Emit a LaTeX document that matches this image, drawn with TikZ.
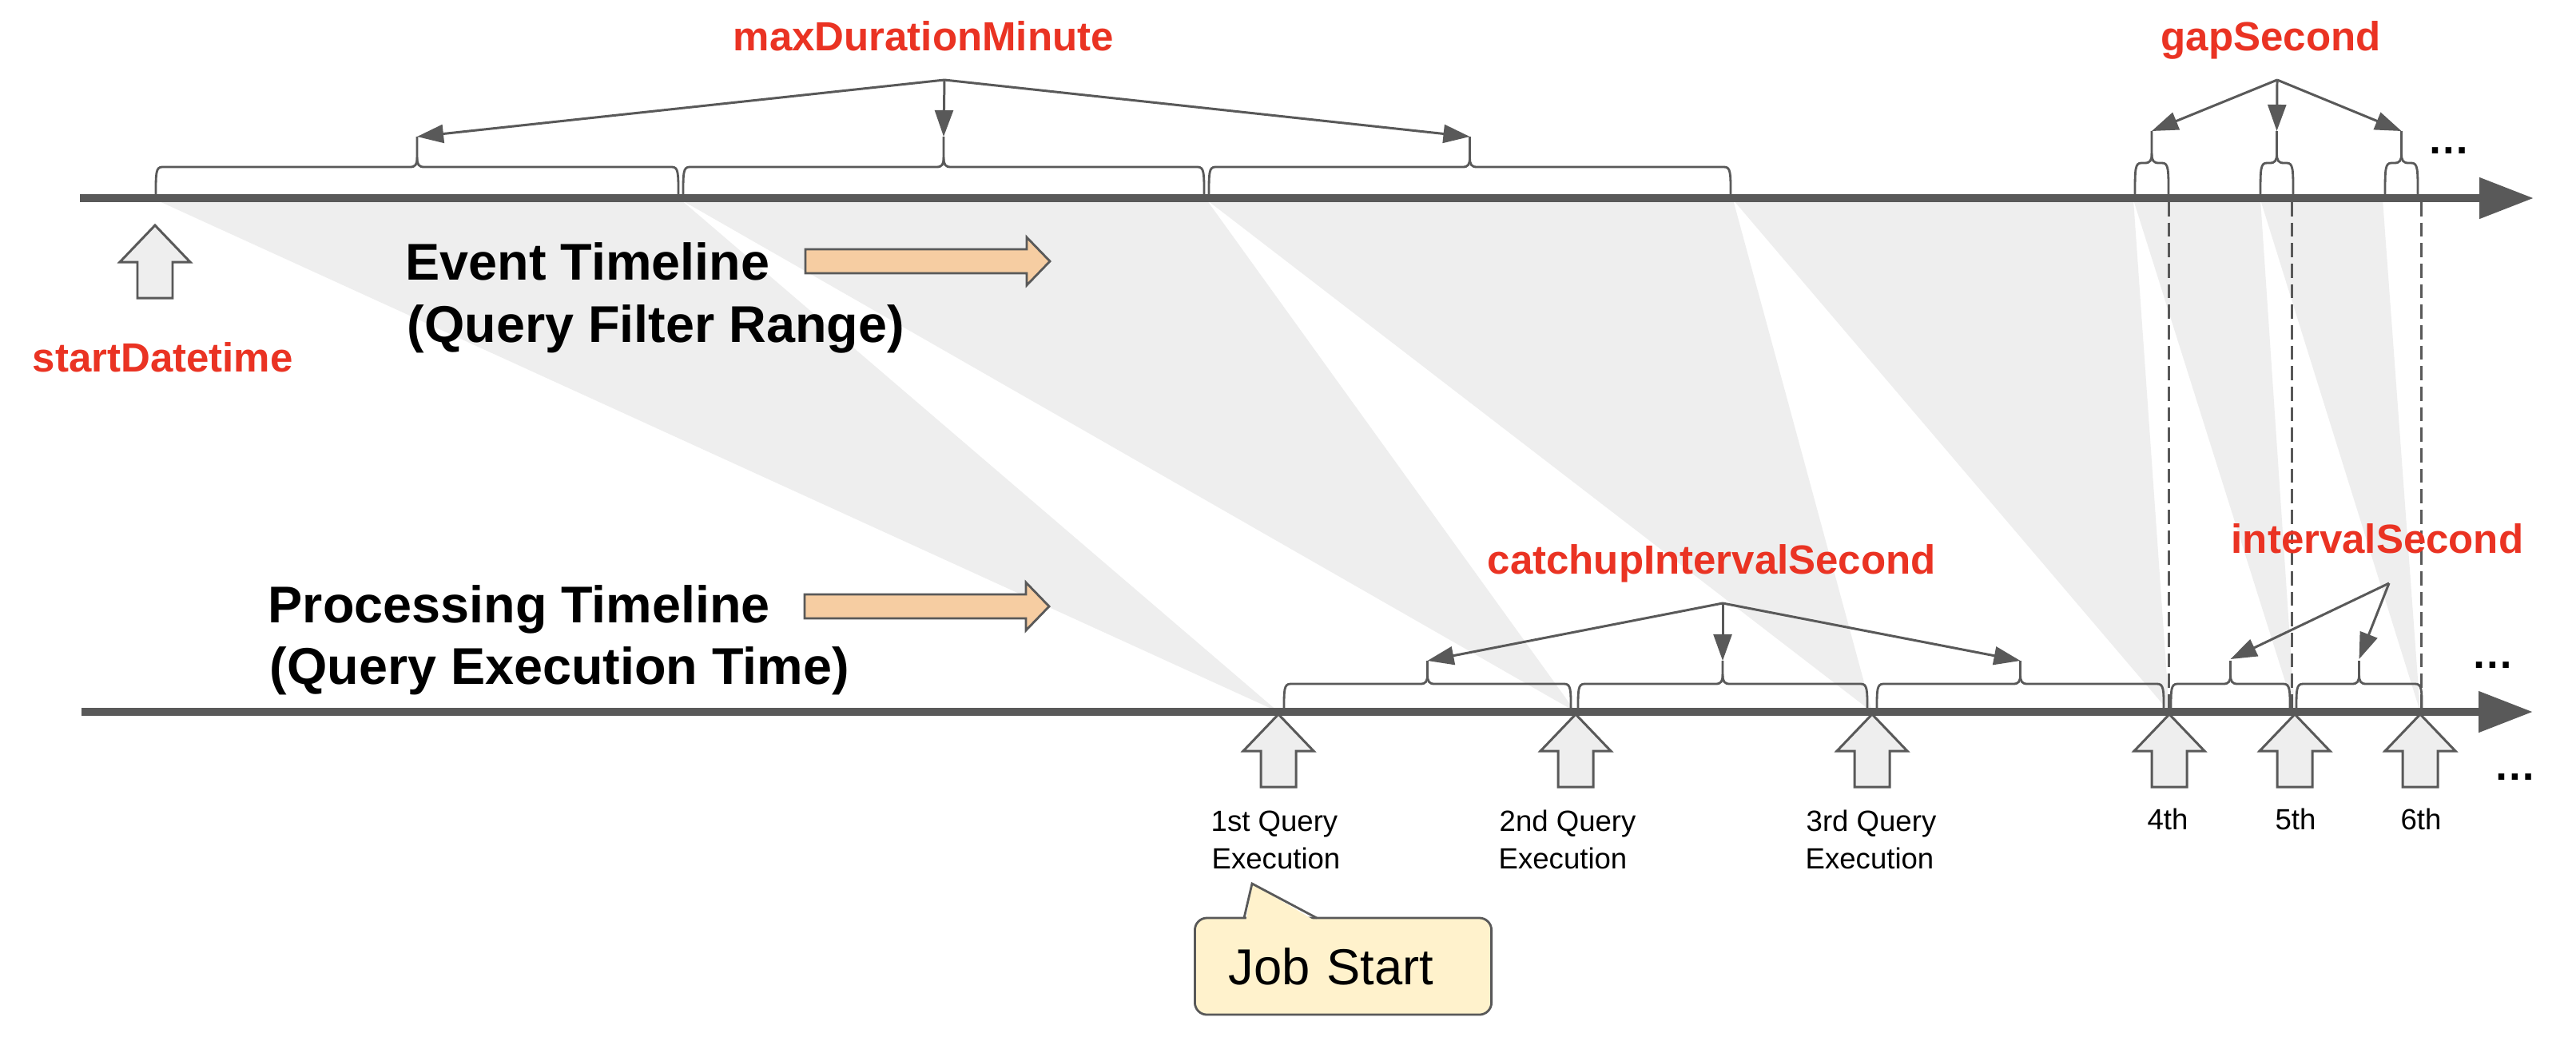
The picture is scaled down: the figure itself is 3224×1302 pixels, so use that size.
\documentclass[tikz,border=0pt]{standalone}
\usepackage{fontspec}
\setmainfont{Liberation Sans}
\usetikzlibrary{arrows.meta}
\definecolor{lg}{HTML}{595959}
\definecolor{wedgegray}{HTML}{EEEEEE}
\definecolor{lbl}{HTML}{EA3323}
\definecolor{orng}{HTML}{F6CDA2}
\definecolor{calloutfill}{HTML}{FFF2CC}

\newcommand{\tlbrace}[5]{%
  \pgfmathsetmacro{\brmid}{(#1+#2)/2}%
  \draw[bracestyle] (#1,#3) .. controls (#1,{#4+8}) and (#1,#4) .. ({#1+8},#4) -- ({\brmid-9},#4) .. controls ({\brmid-2},#4) and (\brmid,{#4-3}) .. (\brmid,{#4-12}) -- (\brmid,#5);
  \draw[bracestyle] (\brmid,{#4-12}) .. controls (\brmid,{#4-3}) and ({\brmid+2},#4) .. ({\brmid+9},#4) -- ({#2-8},#4) .. controls (#2,#4) and (#2,{#4+8}) .. (#2,#3);
}

\begin{document}
\begin{tikzpicture}[x=0.01cm,y=-0.01cm,
  bar/.style={draw=lg, line width=2.85pt, -{Triangle[length=19.3pt,width=14pt]}},
  conn/.style={draw=lg, line width=0.85pt, -{Triangle[length=9.4pt,width=6.5pt]}},
  bracestyle/.style={draw=lg, line width=0.8pt},
  dashedline/.style={draw=lg, line width=0.85pt, dash pattern=on 5pt off 2.3pt},
  blockarrow/.style={draw=lg, fill=wedgegray, line width=0.85pt},
  orangestyle/.style={draw=lg, fill=orng, line width=0.8pt},
  txt/.style={inner sep=0pt, anchor=base west},
  redlbl/.style={txt, text=lbl, font=\bfseries\fontsize{14.5pt}{17pt}\selectfont},
  biglbl/.style={txt, font=\bfseries\fontsize{18.4pt}{22pt}\selectfont},
  qlbl/.style={txt, font=\fontsize{10.4pt}{13pt}\selectfont},
  ordlbl/.style={qlbl, anchor=base},
  dots/.style={inner sep=0pt, anchor=base, font=\bfseries\fontsize{15pt}{18pt}\selectfont},
  calloutbox/.style={draw=lg, fill=calloutfill, line width=0.8pt, rounded corners=4.3pt,
    minimum height=1.21cm, text width=2.87cm, inner xsep=0.42cm, inner ysep=0pt,
    align=left, anchor=west, font=\fontsize{18pt}{21pt}\selectfont},
  uparrow/.pic={\draw[blockarrow] (0,0) -- (44,46) -- (22,46) -- (22,91) -- (-22,91) -- (-22,46) -- (-44,46) -- cycle;},
  orangearrow/.pic={\draw[orangestyle] (0,-15) -- (277,-15) -- (277,-30) -- (306,0) -- (277,30) -- (277,15) -- (0,15) -- cycle;}
]
\useasboundingbox (0,0) rectangle (3224,1302);
\fill[white] (0,0) rectangle (3224,1302);

% projection wedges
\fill[wedgegray] (195,250) -- (852,250) -- (1600,891) -- cycle;
\fill[wedgegray] (852,250) -- (1510,250) -- (1972,891) -- cycle;
\fill[wedgegray] (1510,250) -- (2169,250) -- (2343,891) -- cycle;
\fill[wedgegray] (2169,250) -- (2670,250) -- (2715,891) -- cycle;
\fill[wedgegray] (2670,250) -- (2829,250) -- (2872,891) -- cycle;
\fill[wedgegray] (2829,250) -- (2982,250) -- (3029,891) -- cycle;

% dashed guides
\coordinate (d1t) at (2714,253); \coordinate (d1b) at (2714,886);
\coordinate (d2t) at (2868,253); \coordinate (d2b) at (2868,886);
\coordinate (d3t) at (3030,253); \coordinate (d3b) at (3030,886);
\draw[dashedline] (d1t) -- (d1b);
\draw[dashedline] (d2t) -- (d2b);
\draw[dashedline] (d3t) -- (d3b);

% timelines
\coordinate (evA) at (100,248); \coordinate (evB) at (3171,248);
\coordinate (prA) at (102,891); \coordinate (prB) at (3170,891);
\draw[bar] (evA) -- (evB);
\draw[bar] (prA) -- (prB);

% event braces
\tlbrace{195}{849}{243}{209}{171}
\tlbrace{855}{1507}{243}{209}{171}
\tlbrace{1513}{2166}{243}{209}{171}
\tlbrace{2672}{2714}{243}{204}{164}
\tlbrace{2829}{2870}{243}{204}{164}
\tlbrace{2985}{3026}{243}{204}{164}

% processing braces
\tlbrace{1607}{1966}{886}{856}{827}
\tlbrace{1975}{2337}{886}{856}{827}
\tlbrace{2349}{2708}{886}{856}{827}
\tlbrace{2717}{2866}{886}{856}{827}
\tlbrace{2874}{3031}{886}{856}{827}

% block arrows
\pic at (194,282) {uparrow};
\pic at (1600,894) {uparrow};
\pic at (1972,894) {uparrow};
\pic at (2343,894) {uparrow};
\pic at (2715,894) {uparrow};
\pic at (2872,894) {uparrow};
\pic at (3029,894) {uparrow};

% orange direction arrows
\pic at (1008,327) {orangearrow};
\pic at (1007,759) {orangearrow};

% connectors
\coordinate (mdApex) at (1182,100);
\coordinate (mdT1) at (522,171); \coordinate (mdT2) at (1181,171); \coordinate (mdT3) at (1839.5,171);
\draw[conn] (mdApex) -- (mdT1);
\draw[conn] (mdApex) -- (mdT2);
\draw[conn] (mdApex) -- (mdT3);

\coordinate (gpApex) at (2850,100);
\coordinate (gpT1) at (2693,164); \coordinate (gpT2) at (2849.5,164); \coordinate (gpT3) at (3005.5,164);
\draw[conn] (gpApex) -- (gpT1);
\draw[conn] (gpApex) -- (gpT2);
\draw[conn] (gpApex) -- (gpT3);

\coordinate (ciApex) at (2156,755);
\coordinate (ciT1) at (1786.5,827); \coordinate (ciT2) at (2156,827); \coordinate (ciT3) at (2528.5,827);
\draw[conn] (ciApex) -- (ciT1);
\draw[conn] (ciApex) -- (ciT2);
\draw[conn] (ciApex) -- (ciT3);

\coordinate (ivApex) at (2990,730);
\coordinate (ivT1) at (2791.5,825); \coordinate (ivT2) at (2952.5,825);
\draw[conn] (ivApex) -- (ivT1);
\draw[conn] (ivApex) -- (ivT2);

% labels
\node[redlbl] (maxdur) at (917,63) {maxDurationMinute};
\node[redlbl] (gapsec) at (2704,63) {gapSecond};
\node[redlbl] (startdt) at (40,465) {startDatetime};
\node[redlbl] (catchup) at (1861,718) {catchupIntervalSecond};
\node[redlbl] (intsec) at (2792,692) {intervalSecond};

\node[biglbl] (ev1) at (507,350) {Event Timeline};
\node[biglbl] (ev2) at (509,428) {(Query Filter Range)};
\node[biglbl] (pr1) at (335,779) {Processing Timeline};
\node[biglbl] (pr2) at (337,856) {(Query Execution Time)};

\node[qlbl] (q1a) at (1515,1040) {1st Query};
\node[qlbl] (q1b) at (1516,1087) {Execution};
\node[qlbl] (q2a) at (1876,1040) {2nd Query};
\node[qlbl] (q2b) at (1875,1087) {Execution};
\node[qlbl] (q3a) at (2260,1040) {3rd Query};
\node[qlbl] (q3b) at (2259,1087) {Execution};
\node[ordlbl] (q4) at (2713,1038) {4th};
\node[ordlbl] (q5) at (2873,1038) {5th};
\node[ordlbl] (q6) at (3030,1038) {6th};

\node[dots] (dotsA) at (3065,192) {…};
\node[dots] (dotsB) at (3120,836) {…};
\node[dots] (dotsC) at (3148,976) {…};

% job start callout
\node[calloutbox] (job) at (1494,1209.5) {Job Start};
\coordinate (jobtip) at (1567,1106);
\coordinate (jobL) at (1557,1149); \coordinate (jobR) at (1648,1149);
\fill[calloutfill] (1559.5,1152) -- (jobtip) -- (1645,1152) -- cycle;
\draw[draw=lg, line width=0.8pt] (jobL) -- (jobtip) -- (jobR);
\end{tikzpicture}
\end{document}
